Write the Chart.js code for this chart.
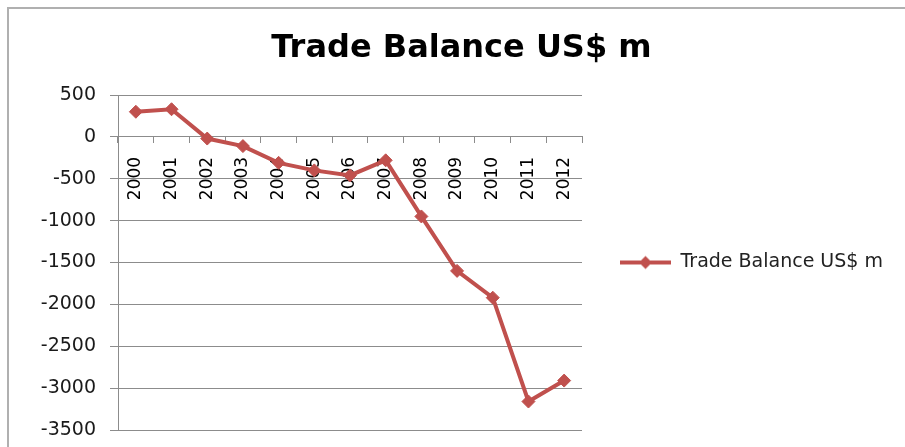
<!DOCTYPE html>
<html>
<head>
<meta charset="utf-8">
<script src="https://cdn.jsdelivr.net/npm/chart.js@4/dist/chart.umd.min.js"></script>
<style>
  html, body { margin: 0; padding: 0; background: #ffffff; }
  #wrap { position: relative; width: 905px; height: 447px; }
</style>
</head>
<body>
<div id="wrap"><canvas id="c" width="905" height="447"></canvas></div>
<script>
const chartTitle = 'Trade Balance US$ m';
const seriesName = 'Trade Balance US$ m';
const years = ['2000','2001','2002','2003','2004','2005','2006','2007','2008','2009','2010','2011','2012'];
const tradeBalance = [300, 330, -20, -110, -310, -400, -460, -280, -950, -1600, -1920, -3160, -2910];
const yTicks = [500, 0, -500, -1000, -1500, -2000, -2500, -3000, -3500];

const RED = '#C0504D';
const GRID = '#8c8c8c';
const FONT = '"DejaVu Sans", Verdana, sans-serif';
const legendFontSize = 19;
const legendPad = 38;
const legendBoxW = 51;

// legend symbol: line + diamond
const sym = document.createElement('canvas');
sym.width = legendBoxW; sym.height = 16;
(function(){
  const g = sym.getContext('2d');
  g.strokeStyle = RED; g.lineWidth = 4;
  g.beginPath(); g.moveTo(0, 8); g.lineTo(legendBoxW, 8); g.stroke();
  g.fillStyle = RED;
  g.beginPath(); g.moveTo(legendBoxW/2 - 6.5, 8); g.lineTo(legendBoxW/2, 1.5);
  g.lineTo(legendBoxW/2 + 6.5, 8); g.lineTo(legendBoxW/2, 14.5); g.closePath(); g.fill();
})();

// measure legend text to place the plot's right edge
const mctx = document.createElement('canvas').getContext('2d');
mctx.font = legendFontSize + 'px ' + FONT;
const legendTextW = mctx.measureText(seriesName).width;
const plotRight = 582;
const leftPad = 30;
const legendW = legendPad + legendBoxW + legendFontSize / 2 + legendTextW + 10;
const rightPad = Math.max(0, 905 - plotRight - legendW);

const frame = {
  id: 'frame',
  beforeDraw(chart) {
    const ctx = chart.ctx;
    ctx.save();
    ctx.strokeStyle = '#b0b0b0';
    ctx.lineWidth = 2;
    ctx.beginPath();
    ctx.moveTo(8, 447);
    ctx.lineTo(8, 8);
    ctx.lineTo(905, 8);
    ctx.stroke();
    ctx.restore();
  }
};

new Chart(document.getElementById('c'), {
  type: 'line',
  data: {
    labels: years,
    datasets: [{
      label: seriesName,
      data: tradeBalance,
      borderColor: RED,
      backgroundColor: RED,
      borderWidth: 4,
      pointStyle: 'rectRot',
      pointRadius: 6.5,
      pointHoverRadius: 6.5,
      pointBorderWidth: 1,
      pointBackgroundColor: RED,
      pointBorderColor: RED,
      tension: 0,
      fill: false
    }]
  },
  options: {
    responsive: false,
    animation: false,
    devicePixelRatio: 1,
    layout: { padding: { left: leftPad, right: rightPad, top: 0, bottom: 17 } },
    plugins: {
      tooltip: { enabled: false },
      title: {
        display: true,
        text: chartTitle,
        color: '#000000',
        font: { family: FONT, size: 32, weight: 'bold', lineHeight: 1.2 },
        padding: { top: 29.5, bottom: 27.1 }
      },
      legend: {
        display: true,
        position: 'right',
        fullSize: false,
        maxWidth: 600,
        labels: {
          color: '#222222',
          font: { family: FONT, size: legendFontSize },
          padding: legendPad,
          usePointStyle: true,
          pointStyleWidth: legendBoxW,
          generateLabels(chart) {
            return [{
              text: seriesName,
              pointStyle: sym,
              fillStyle: RED,
              strokeStyle: RED,
              lineWidth: 0,
              hidden: false,
              datasetIndex: 0,
              fontColor: '#222222'
            }];
          }
        }
      }
    },
    scales: {
      x: {
        type: 'category',
        position: { y: 0 },
        offset: true,
        z: 1,
        grid: {
          display: true,
          drawOnChartArea: false,
          drawTicks: true,
          tickLength: 6,
          offset: true,
          color: GRID
        },
        border: { display: true, color: GRID, width: 1 },
        ticks: {
          color: '#000000',
          font: { family: FONT, size: 17 },
          minRotation: 90,
          maxRotation: 90,
          autoSkip: false,
          padding: 14
        }
      },
      y: {
        position: 'left',
        min: -3500,
        max: 500,
        afterFit(scale) {
          scale.width = 118 - leftPad;
          scale.paddingTop = 0;
          scale.paddingBottom = 0;
        },
        afterBuildTicks(scale) { scale.ticks = yTicks.map(v => ({ value: v })); },
        grid: {
          color: GRID,
          drawTicks: true,
          tickLength: 8
        },
        border: { display: true, color: GRID, width: 1 },
        ticks: {
          color: '#1a1a1a',
          font: { family: FONT, size: 19 },
          padding: 14,
          callback: (v) => String(v)
        }
      }
    }
  },
  plugins: [frame]
});
</script>
</body>
</html>
